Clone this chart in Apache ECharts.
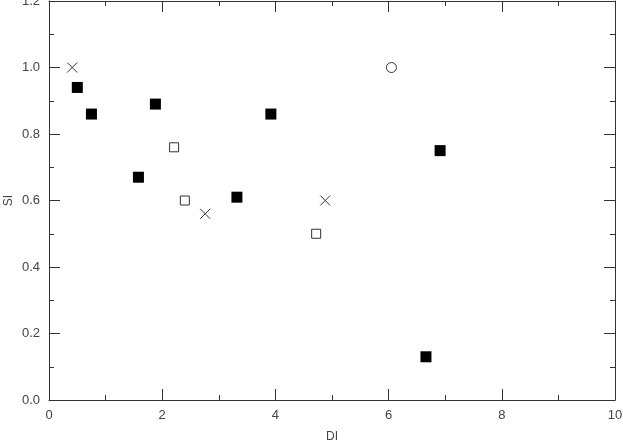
<!DOCTYPE html>
<html>
<head>
<meta charset="utf-8">
<script src="https://cdn.jsdelivr.net/npm/echarts@6/dist/echarts.min.js"></script>
<style>html,body{margin:0;padding:0;background:#fff}#c{width:623px;height:441px}</style>
</head>
<body>
<div id="c"></div>
<script>
var filledSquares = [[0.50,0.94],[0.75,0.86],[1.88,0.89],[1.58,0.67],[3.32,0.61],[3.92,0.86],[6.91,0.75],[6.66,0.13]];
var openSquares = [[2.21,0.76],[2.40,0.60],[4.72,0.50]];
var crosses = [[0.41,1.00],[2.76,0.56],[4.88,0.60]];
var circles = [[6.05,1.00]];
var xTitle = 'DI';
var yTitle = 'SI';

var chart = echarts.init(document.getElementById('c'));
var axisCol = '#333';
var font = {fontFamily: 'Liberation Sans, Arial, sans-serif', fontSize: 13, color: '#444'};
function mkAxis(pos, show, min, max, interval, name, fmt) {
  return {
    type: 'value', position: pos, min: min, max: max, interval: interval,
    name: show ? name : '', nameLocation: 'middle',
    nameGap: pos === 'bottom' ? 31 : 34,
    nameMoveOverlap: false,
    nameTextStyle: Object.assign({}, font, {fontSize: 12}),
    axisLine: {show: true, onZero: false, lineStyle: {color: axisCol, width: 1}},
    axisTick: {show: true, inside: true, length: 11, lineStyle: {color: axisCol}},
    minorTick: {show: true, splitNumber: 2, length: 5, lineStyle: {color: axisCol}},
    axisLabel: {show: show, margin: 9, formatter: fmt, ...font},
    splitLine: {show: false}
  };
}
chart.setOption({
  animation: false,
  grid: {left: 49, right: 8, top: 1, bottom: 41, containLabel: false, outerBoundsMode: 'none'},
  xAxis: [
    mkAxis('bottom', true, 0, 10, 2, xTitle, function(v){return String(v);}),
    mkAxis('top', false, 0, 10, 2, '', null)
  ],
  yAxis: [
    mkAxis('left', true, 0, 1.2, 0.2, yTitle, function(v){return v.toFixed(1);}),
    mkAxis('right', false, 0, 1.2, 0.2, '', null)
  ],
  series: [
    {type: 'scatter', data: filledSquares, symbol: 'rect', symbolSize: 11,
     itemStyle: {color: '#000', opacity: 1}},
    {type: 'scatter', data: openSquares, symbol: 'rect', symbolSize: 9,
     itemStyle: {color: '#fff', borderColor: '#333', borderWidth: 1, opacity: 1}},
    {type: 'scatter', data: crosses, symbol: 'path://M0,0L10,10M10,0L0,10', symbolSize: 10,
     itemStyle: {color: 'none', borderColor: '#333', borderWidth: 1, opacity: 1}},
    {type: 'scatter', data: circles, symbol: 'circle', symbolSize: 10,
     itemStyle: {color: '#fff', borderColor: '#333', borderWidth: 1, opacity: 1}}
  ]
});
</script>
</body>
</html>
